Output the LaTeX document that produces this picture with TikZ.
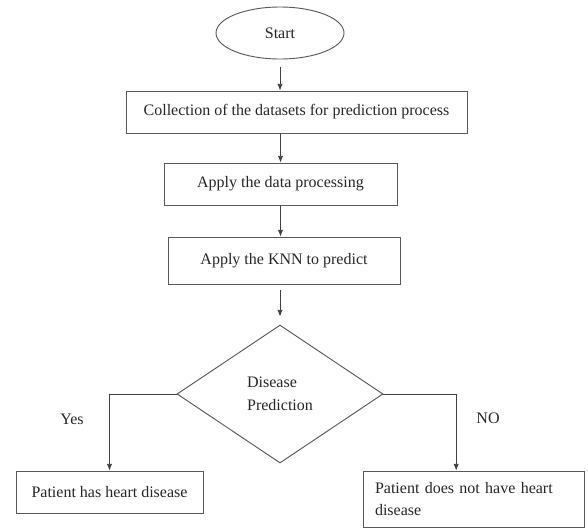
\documentclass[tikz,border=0pt]{standalone}
\usepackage{fontspec}
\setmainfont{Liberation Serif}
\usetikzlibrary{shapes.geometric,arrows.meta}
\begin{document}
\begin{tikzpicture}[x=0.75pt,y=-0.75pt,
    every node/.style={font=\fontsize{12}{17}\selectfont, text=black!85},
    box/.style={rectangle, draw=black!65, line width=0.7pt, inner sep=0pt, align=center},
    arr/.style={-{Latex[length=5pt,width=4pt]}, draw=black!75, line width=0.6pt}]
  \useasboundingbox (0,0) rectangle (588,529);
  \node[ellipse, draw=black!65, line width=0.7pt, minimum width=96pt, minimum height=39pt] (start) at (280,33) {Start};
  \node[box, minimum width=255.75pt, minimum height=31.5pt] (collect) at (296.5,112) {Collection of the datasets for prediction process};
  \node[box, minimum width=174.75pt, minimum height=31.5pt] (process) at (280.5,184) {Apply the data processing};
  \node[box, minimum width=174pt, minimum height=35.25pt] (knn) at (284,260.5) {Apply the KNN to predict};
  \node[diamond, draw=black!65, line width=0.7pt, inner sep=0pt, align=left, minimum width=154.5pt, minimum height=103.5pt] (decision) at (280,394) {Disease\\Prediction};
  \node[box, minimum width=140.25pt, minimum height=31.5pt] (yes) at (109.5,492) {Patient has heart disease};
  \node[box, align=left, text width=147.75pt, inner xsep=9pt, minimum height=42pt] (no) at (473.5,499) {Patient does not have heart\\disease};
  \node (yeslbl) at (72,419) {Yes};
  \node (nolbl) at (488,418) {NO};
  \begin{scope}[arr]
    \draw[shorten <=6pt] (start.south) -- (start.south |- collect.north);
    \draw (process.north |- collect.south) -- (process.north);
    \draw (process.south) -- (process.south |- knn.north);
    \draw[shorten <=4.5pt, shorten >=6pt] (decision.north |- knn.south) -- (decision.north);
    \draw (decision.west) -| (yes.north);
    \draw (decision.east) -| ([xshift=-13pt]no.north);
  \end{scope}
\end{tikzpicture}
\end{document}
